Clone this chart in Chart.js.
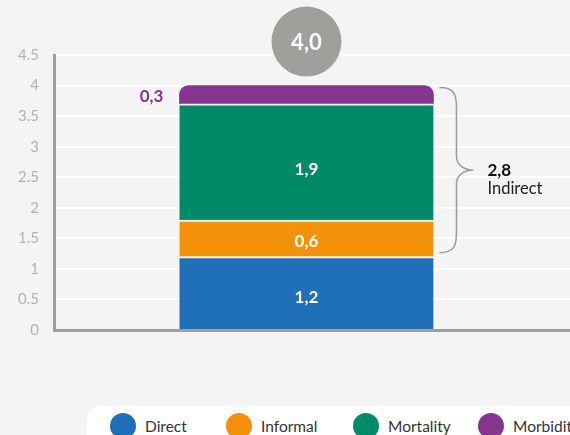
<!DOCTYPE html>
<html><head><meta charset="utf-8">
<script src="https://cdn.jsdelivr.net/npm/chart.js@4/dist/chart.umd.min.js"></script>
<style>
html,body{margin:0;padding:0;background:#f4f4f4;overflow:hidden;width:570px;height:435px;}
#wrap{position:relative;width:570px;height:435px;}
canvas{position:absolute;left:0;top:0;}
#legend{position:absolute;left:87px;top:406px;width:520px;height:44px;background:#fff;border-radius:14px;font-family:Lato,"DejaVu Sans",sans-serif;font-size:15.5px;color:#333;}
.item{position:absolute;top:7px;height:26px;line-height:26px;white-space:nowrap;}
.dot{position:absolute;left:0;top:0;width:26px;height:26px;border-radius:50%;}
.lbl{position:absolute;left:35px;top:0;}
</style></head>
<body><div id="wrap"><canvas id="c" width="570" height="435"></canvas><div id="legend"></div></div>
<script>
const categories = ['Total'];
const seriesNames = ['Direct', 'Informal', 'Mortality', 'Morbidity'];
const seriesValues = [1.2, 0.6, 1.9, 0.3];
const valueLabels = ['1,2', '0,6', '1,9', '0,3'];
const totalLabel = '4,0';
const indirectValue = '2,8';
const indirectLabel = 'Indirect';
const yTicks = [0, 0.5, 1, 1.5, 2, 2.5, 3, 3.5, 4, 4.5];
const colors = ['#1f70b9', '#f39208', '#008a68', '#84368c'];

const FONT = 'Lato, "DejaVu Sans", sans-serif';
const labelShift = [5, 3, 8, 2];

const datasets = seriesNames.map((n, i) => ({
  label: n,
  data: [{x: 0, y: seriesValues[i]}],
  backgroundColor: colors[i],
  borderColor: '#f4f4f4',
  borderWidth: i < 3 ? {top: 2, bottom: 0, left: 0, right: 0} : 0,
  borderSkipped: false,
  borderRadius: i === 3 ? {topLeft: 18, topRight: 18, bottomLeft: 0, bottomRight: 0} : 0,
  barThickness: 254
}));

const annot = {
  id: 'annot',
  afterDatasetsDraw(chart) {
    const ctx = chart.ctx;
    const y = chart.scales.y;
    ctx.save();
    ctx.textAlign = 'center';
    ctx.textBaseline = 'middle';
    let barX = 0, barLeft = 0;
    chart.data.datasets.forEach((ds, i) => {
      const el = chart.getDatasetMeta(i).data[0];
      barX = el.x; barLeft = el.x - el.width / 2;
      const midY = (el.y + el.base) / 2 + labelShift[i];
      ctx.font = 'bold 17px ' + FONT;
      if (i < 3) {
        ctx.fillStyle = '#ffffff';
        ctx.fillText(valueLabels[i], el.x, midY);
      } else {
        ctx.fillStyle = colors[3];
        ctx.textAlign = 'right';
        ctx.fillText(valueLabels[i], barLeft - 16, midY);
        ctx.textAlign = 'center';
      }
    });
    const total = seriesValues.reduce((a, b) => a + b, 0);
    const topY = y.getPixelForValue(total);
    const cy = topY - 44;
    ctx.beginPath();
    ctx.arc(barX, cy, 35, 0, Math.PI * 2);
    ctx.fillStyle = '#a09f9b';
    ctx.fill();
    ctx.fillStyle = '#ffffff';
    ctx.font = 'bold 22px ' + FONT;
    ctx.fillText(totalLabel, barX, cy + 1);
    const bTop = topY + 2;
    const bBot = y.getPixelForValue(seriesValues[0]) - 4;
    const bx0 = barX + 127 + 6, bx1 = bx0 + 17, tip = bx0 + 34;
    const mid = (bTop + bBot) / 2;
    ctx.beginPath();
    ctx.moveTo(bx0, bTop);
    ctx.bezierCurveTo(bx0 + 14, bTop, bx1, bTop + 6, bx1, bTop + 20);
    ctx.lineTo(bx1, mid - 14);
    ctx.bezierCurveTo(bx1, mid - 4, tip - 8, mid, tip, mid);
    ctx.bezierCurveTo(tip - 8, mid, bx1, mid + 4, bx1, mid + 14);
    ctx.lineTo(bx1, bBot - 20);
    ctx.bezierCurveTo(bx1, bBot - 6, bx0 + 14, bBot, bx0, bBot);
    ctx.strokeStyle = '#9b9b9b';
    ctx.lineWidth = 1.5;
    ctx.stroke();
    ctx.textAlign = 'left';
    ctx.fillStyle = '#111';
    ctx.font = 'bold 17px ' + FONT;
    ctx.fillText(indirectValue, tip + 14, mid);
    ctx.font = '16.5px ' + FONT;
    ctx.fillStyle = '#222';
    ctx.fillText(indirectLabel, tip + 14, mid + 19);
    ctx.restore();
  }
};

new Chart(document.getElementById('c'), {
  type: 'bar',
  data: {labels: categories, datasets},
  options: {
    responsive: false,
    animation: false,
    layout: {padding: {top: 55, bottom: 105, left: 2, right: 0}},
    plugins: {legend: {display: false}, tooltip: {enabled: false}},
    scales: {
      x: {
        type: 'linear', stacked: true, min: -0.5, max: 0.528,
        grid: {display: false, drawTicks: false},
        ticks: {display: false},
        border: {display: true, color: '#a09f9b', width: 3}
      },
      y: {
        stacked: true, min: 0, max: 4.5,
        afterBuildTicks: s => { s.ticks = yTicks.map(v => ({value: v})); },
        grid: {color: '#ffffff', lineWidth: 2, drawTicks: false},
        border: {display: true, color: '#a09f9b', width: 3},
        ticks: {color: '#b2b2b2', padding: 16, font: {family: FONT, size: 15}, callback: v => String(v)}
      }
    }
  },
  plugins: [annot]
});

const lg = document.getElementById('legend');
const lgPos = [23, 139, 266, 391];
seriesNames.forEach((n, i) => {
  const d = document.createElement('div');
  d.className = 'item';
  d.style.left = lgPos[i] + 'px';
  d.innerHTML = '<span class="dot" style="background:' + colors[i] + '"></span><span class="lbl">' + n + '</span>';
  lg.appendChild(d);
});
</script></body></html>
